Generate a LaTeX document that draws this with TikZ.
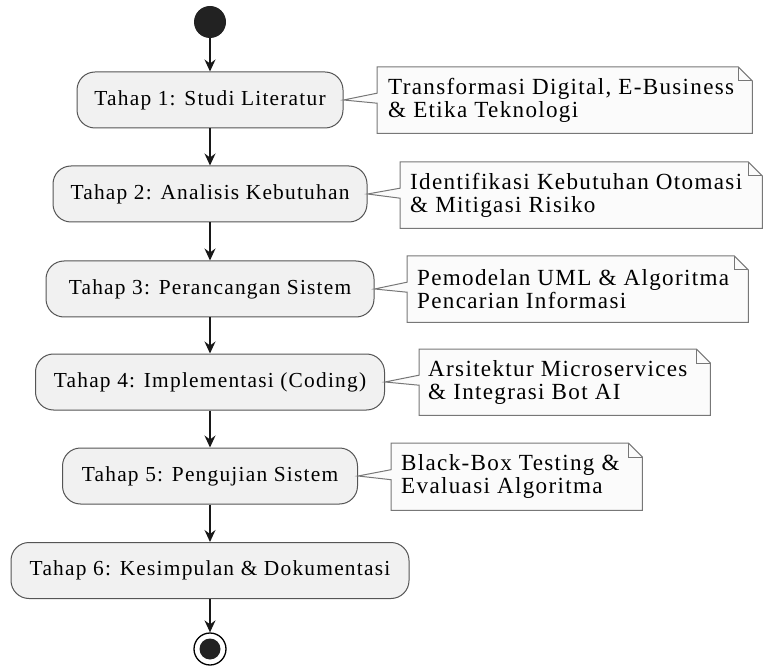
\documentclass[tikz,border=0pt]{standalone}
\usepackage{fontspec}
\setmainfont{Liberation Serif}[LetterSpace=5.7]
\usetikzlibrary{arrows.meta,calc}
\definecolor{boxfill}{HTML}{F1F1F1}
\definecolor{boxline}{HTML}{555555}
\definecolor{notefill}{HTML}{FBFBFB}
\definecolor{noteline}{HTML}{777777}
\definecolor{arrowc}{HTML}{181818}
\definecolor{startc}{HTML}{222222}
\newcommand\boxfont{\fontsize{21.4}{24}\selectfont}
\newcommand\notefont{\fontsize{23.1}{23.4}\selectfont}
\begin{document}
\begin{tikzpicture}[x=1pt,y=-1pt,
  stepbox/.style={draw=boxline, fill=boxfill, line width=1pt, rounded corners=18pt,
    minimum height=56pt, inner sep=0pt, font=\boxfont, text=black},
  notebox/.style={minimum height=66pt, inner sep=0pt, anchor=north west},
  notetext/.style={anchor=west, align=left, inner sep=0pt, font=\notefont, text=black},
  noteshape/.style={draw=noteline, fill=notefill, line width=1pt, line join=miter},
  flow/.style={draw=arrowc, line width=1.4pt, -{Stealth[length=12pt,width=11pt,inset=4pt]}},
]
\useasboundingbox (0,0) rectangle (763,668);

% start / end
\node[circle, fill=startc, minimum size=32pt, inner sep=0pt] (start) at (210,22) {};
\node[circle, draw=black, line width=1.3pt, fill=white, minimum size=32pt, inner sep=0pt] (end) at (210,649) {};
\node[circle, fill=startc, minimum size=21pt, inner sep=0pt] (endin) at (end.center) {};

% steps
\node[stepbox, minimum width=266pt] (b1) at (210,100) {Tahap 1: Studi Literatur};
\node[stepbox, minimum width=314pt] (b2) at (210,194) {Tahap 2: Analisis Kebutuhan};
\node[stepbox, minimum width=328pt] (b3) at (210,289) {Tahap 3: Perancangan Sistem};
\node[stepbox, minimum width=349pt] (b4) at (210,382) {Tahap 4: Implementasi (Coding)};
\node[stepbox, minimum width=295pt] (b5) at (210,476) {Tahap 5: Pengujian Sistem};
\node[stepbox, minimum width=398pt] (b6) at (210,570.5) {Tahap 6: Kesimpulan \& Dokumentasi};

% flow
\draw[flow] (start) -- (b1);
\draw[flow] (b1) -- (b2);
\draw[flow] (b2) -- (b3);
\draw[flow] (b3) -- (b4);
\draw[flow] (b4) -- (b5);
\draw[flow] (b5) -- (b6);
\draw[flow] (b6) -- (end);

% notes
\node[notebox, minimum width=375pt] (n1) at (377,67) {};
\node[notebox, minimum width=362pt] (n2) at (400,162) {};
\node[notebox, minimum width=341pt] (n3) at (407,256) {};
\node[notebox, minimum width=291pt] (n4) at (419,349) {};
\node[notebox, minimum width=251pt, minimum height=67pt] (n5) at (391,443) {};

\foreach \n/\b in {n1/b1,n2/b2,n3/b3,n4/b4,n5/b5}{
  \draw[noteshape] (\n.north west) -- ($(\n.north east)+(-14,0)$) -- ($(\n.north east)+(0,14)$)
    -- (\n.south east) -- (\n.south west) -- ($(\n.west)+(0,3)$) -- (\b.east)
    -- ($(\n.west)+(0,-7)$) -- cycle;
  \draw[draw=noteline, line width=1pt, line join=miter] ($(\n.north east)+(-14,0)$) -- ($(\n.north east)+(-14,14)$) -- ($(\n.north east)+(0,14)$);
}

\node[notetext] (t1) at ($(n1.west)+(11,0)$) {Transformasi Digital, E-Business\\\& Etika Teknologi};
\node[notetext] (t2) at ($(n2.west)+(10,0)$) {Identifikasi Kebutuhan Otomasi\\\& Mitigasi Risiko};
\node[notetext] (t3) at ($(n3.west)+(10,0)$) {Pemodelan UML \& Algoritma\\Pencarian Informasi};
\node[notetext] (t4) at ($(n4.west)+(9,0)$) {Arsitektur Microservices\\\& Integrasi Bot AI};
\node[notetext] (t5) at ($(n5.west)+(10,0)$) {Black-Box Testing \&\\Evaluasi Algoritma};
\end{tikzpicture}
\end{document}
